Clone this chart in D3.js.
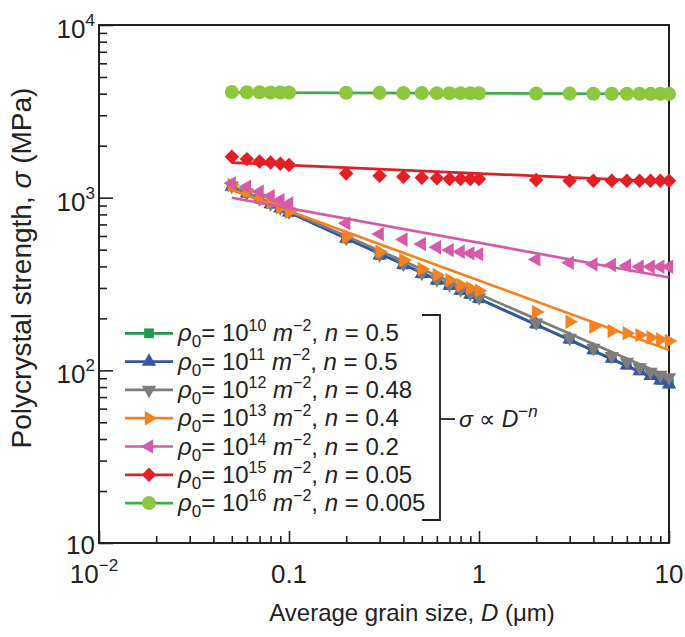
<!DOCTYPE html>
<html><head><meta charset="utf-8">
<script src="https://cdn.jsdelivr.net/npm/d3@7"></script>
<style>
body{margin:0;background:#fff;}
svg{display:block;font-family:"Liberation Sans",Arial,Helvetica,sans-serif;}
</style>
</head><body>
<svg id="chart" width="685" height="637"></svg>
<script>
// ---------------- data ----------------
const grainSize = [0.05,0.06,0.07,0.08,0.09,0.1,0.2,0.3,0.4,0.5,0.6,0.7,0.8,0.9,1,2,3,4,5,6,7,8,9,10];

const rho10 = [1165,1063,985,921,868,824,581,465,410,364,333,311,291,276,261,186,152,132,118,108,100,94,88,84];
const rho11 = [1160,1060,983,919,866,822,580,463,408,362,332,310,290,275,260,185,151,131,117,107,99,93,87.5,83];
const rho12 = [1168,1068,990,927,874,830,585,468,413,367,336,314,294,279,264,189,154,135,121,112,104,98,94,91];
const rho13 = [1183,1090,1010,940,880,829,594,486,435,386,357,334,312,299,289,218,191,179,169,164,160,155,151,148];
const rho14 = [1210,1156,1081,1021,968,926,710,615,573,539,516,497,486,476,471,439,420,411,407,403,398,398,398,398];
const rho15 = [1726,1672,1620,1597,1573,1547,1382,1340,1321,1303,1294,1282,1282,1282,1282,1265,1253,1253,1253,1253,1253,1253,1253,1253];
const rho16 = [4090,4080,4075,4070,4070,4065,4050,4045,4040,4035,4030,4030,4030,4025,4025,4010,4005,4000,4000,3995,3995,3990,3990,3990];

const seriesValues = [rho10, rho11, rho12, rho13, rho14, rho15, rho16];
const rhoExponents = ["10","11","12","13","14","15","16"];
const nValues = ["0.5","0.5","0.48","0.4","0.2","0.05","0.005"];

// power-law fit lines: value at D = 0.05 and at D = 10
const fitD = [0.05, 10];
const fitStart = [1165, 1160, 1165, 1107, 999, 1597, 4065];
const fitEnd   = [82.4, 82, 91.5, 131, 345, 1236, 3985];

const yTickValues = [10, 100, 1000, 10000];
const yTickExps   = ["", "2", "3", "4"];
const xTickValues = [0.01, 0.1, 1, 10];
const xTickTexts  = ["10", "0.1", "1", "10"];
const xTickExps   = ["\u22122", "", "", ""];

// ---------------- styles ----------------
const lineColors   = ["#1e9b4f","#3a55a5","#7d7d7d","#f5821f","#d55aa8","#e41e26","#3fae49"];
const markerColors = ["#1e9b4f","#3a55a5","#7d7d7d","#f5821f","#d55aa8","#e41e26","#8dc63f"];
const markerTypes  = ["square","triUp","triDown","triRight","triLeft","diamond","circle"];

const W = 685, H = 637;
const m = {left: 99, right: 16, top: 25, bottom: 94};
const svg = d3.select("#chart");

const x = d3.scaleLog().domain([0.01, 10]).range([m.left, W - m.right]);
const y = d3.scaleLog().domain([10, 10000]).range([H - m.bottom, m.top]);

function symbolPath(type) {
  switch (type) {
    case "square":  return {p: d3.symbol(d3.symbolSquare, 95)(), r: 0};
    case "triUp":   return {p: d3.symbol(d3.symbolTriangle, 90)(), r: 0};
    case "triDown": return {p: d3.symbol(d3.symbolTriangle, 90)(), r: 180};
    case "triRight":return {p: d3.symbol(d3.symbolTriangle, 90)(), r: 90};
    case "triLeft": return {p: d3.symbol(d3.symbolTriangle, 90)(), r: -90};
    case "diamond": return {p: d3.symbol(d3.symbolSquare, 105)(), r: 45};
    case "circle":  return {p: d3.symbol(d3.symbolCircle, 155)(), r: 0};
  }
}

// ---------------- frame & axes ----------------
const plotW = W - m.left - m.right, plotH = H - m.top - m.bottom;
const isMajor = d => Math.abs(Math.log10(d) - Math.round(Math.log10(d))) < 1e-9;

const xAxis = d3.axisBottom(x).tickValues(
  d3.range(-2, 1).flatMap(e => d3.range(1, 10).map(k => k * Math.pow(10, e))).concat([10])
).tickSizeInner(-7).tickSizeOuter(0).tickFormat("");
const gx = svg.append("g").attr("transform", `translate(0,${H - m.bottom})`).call(xAxis);
gx.selectAll(".tick line").attr("y2", d => isMajor(d) ? -12 : -7);

const yAxis = d3.axisLeft(y).tickValues(
  d3.range(1, 4).flatMap(e => d3.range(1, 10).map(k => k * Math.pow(10, e))).concat([10000])
).tickSizeInner(-8).tickSizeOuter(0).tickFormat("");
const gy = svg.append("g").attr("transform", `translate(${m.left},0)`).call(yAxis);
gy.selectAll(".tick line").attr("x2", d => isMajor(d) ? 14 : 8);

svg.selectAll(".domain").remove();
svg.selectAll(".tick line").attr("stroke", "#222").attr("stroke-width", 1.6);

svg.append("rect").attr("x", m.left).attr("y", m.top).attr("width", plotW).attr("height", plotH)
  .attr("fill", "none").attr("stroke", "#222").attr("stroke-width", 2);

// tick labels
const yl = svg.append("g").attr("font-size", 26).attr("fill", "#222");
yTickValues.forEach((v, i) => {
  const t = yl.append("text").attr("text-anchor", "end").attr("x", 95)
    .attr("y", y(v) + (yTickExps[i] ? 13 : 11));
  t.append("tspan").text("10");
  if (yTickExps[i]) t.append("tspan").attr("font-size", 17).attr("dy", -12).text(yTickExps[i]);
});
const xl = svg.append("g").attr("font-size", 26).attr("fill", "#222");
xTickValues.forEach((v, i) => {
  const t = xl.append("text").attr("text-anchor", "middle")
    .attr("x", x(v) - (xTickExps[i] ? 5 : 0)).attr("y", 583);
  t.append("tspan").text(xTickTexts[i]);
  if (xTickExps[i]) t.append("tspan").attr("font-size", 17).attr("dy", -12).text(xTickExps[i]);
});

// axis titles
const xt = svg.append("text").attr("x", 412).attr("y", 621).attr("text-anchor", "middle")
  .attr("font-size", 24).attr("fill", "#222");
xt.append("tspan").text("Average grain size, ");
xt.append("tspan").attr("font-style", "italic").text("D");
xt.append("tspan").text(" (\u03bcm)");

const yt = svg.append("text").attr("transform", "translate(31,268) rotate(-90)")
  .attr("text-anchor", "middle").attr("font-size", 28).attr("fill", "#222");
yt.append("tspan").text("Polycrystal strength, ");
yt.append("tspan").attr("font-style", "italic").text("\u03c3");
yt.append("tspan").text(" (MPa)");

// ---------------- series ----------------
const plot = svg.append("g");
seriesValues.forEach((vals, i) => {
  const g = plot.append("g");
  const line = d3.line().x(d => x(d[0])).y(d => y(d[1]));
  g.append("path").datum([[fitD[0], fitStart[i]], [fitD[1], fitEnd[i]]])
    .attr("d", line).attr("fill", "none").attr("stroke", lineColors[i]).attr("stroke-width", 2.7);
  const sp = symbolPath(markerTypes[i]);
  g.selectAll("path.mk").data(grainSize.map((d, j) => [d, vals[j]])).join("path")
    .attr("class", "mk").attr("d", sp.p)
    .attr("transform", d => `translate(${x(d[0])},${y(d[1])}) rotate(${sp.r})`)
    .attr("fill", markerColors[i]);
});

// ---------------- legend ----------------
const lg = svg.append("g");
rhoExponents.forEach((e, i) => {
  const cy = 333.3 + i * 28.3;
  lg.append("line").attr("x1", 125).attr("x2", 173).attr("y1", cy).attr("y2", cy)
    .attr("stroke", lineColors[i]).attr("stroke-width", 2.7);
  const sp = symbolPath(markerTypes[i]);
  lg.append("path").attr("d", sp.p).attr("transform", `translate(149,${cy}) rotate(${sp.r})`)
    .attr("fill", markerColors[i]);
  const t = lg.append("text").attr("x", 178).attr("y", cy + 8).attr("font-size", 24).attr("fill", "#222");
  t.append("tspan").attr("font-style", "italic").text("\u03c1");
  t.append("tspan").attr("font-size", 17).attr("dy", 6).text("0");
  t.append("tspan").attr("dy", -6).text("= 10");
  t.append("tspan").attr("font-size", 16).attr("dy", -10).text(e);
  t.append("tspan").attr("dy", 10).attr("font-style", "italic").text(" m");
  t.append("tspan").attr("font-size", 16).attr("dy", -10).text("\u22122");
  t.append("tspan").attr("dy", 10).text(", ");
  t.append("tspan").attr("font-style", "italic").text("n");
  t.append("tspan").text(" = " + nValues[i]);
});

// bracket
const br = svg.append("g").attr("stroke", "#222").attr("stroke-width", 1.8).attr("fill", "none");
br.append("path").attr("d", "M422,315H440V520H422");
br.append("path").attr("d", "M440,419H455");
const bt = svg.append("text").attr("x", 459).attr("y", 427).attr("font-size", 23).attr("fill", "#222");
bt.append("tspan").attr("font-style", "italic").text("\u03c3");
bt.append("tspan").text(" \u221d ");
bt.append("tspan").attr("font-style", "italic").text("D");
bt.append("tspan").attr("font-size", 17).attr("dy", -10).text("\u2212");
bt.append("tspan").attr("font-size", 17).attr("font-style", "italic").text("n");
</script>
</body></html>
